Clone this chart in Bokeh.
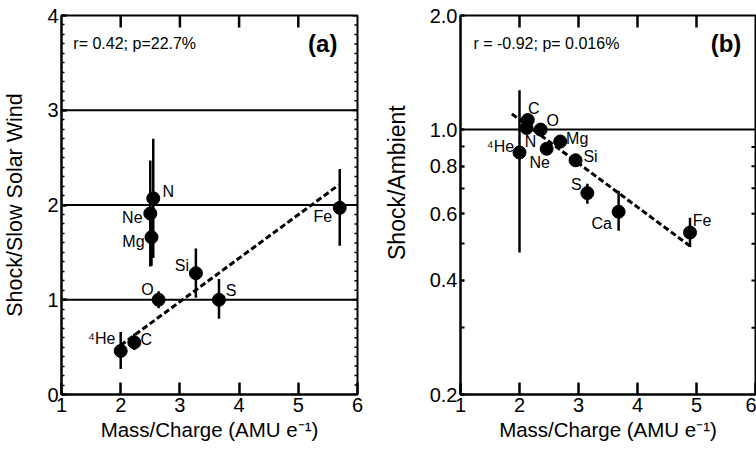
from bokeh.plotting import figure
from bokeh.layouts import row
from bokeh.models import (Range1d, FixedTicker, Span, ColumnDataSource,
                          PrintfTickFormatter, Label)
from bokeh.embed import file_html
from bokeh.resources import INLINE
from bokeh.core.properties import value

FONT = "Liberation Sans"

# ---- Panel (a): shock / slow solar wind abundance ratios ----
ions_a = ["⁴He", "C", "O", "N", "Ne", "Mg", "Si", "S", "Fe"]
mq_a = [2.00, 2.23, 2.64, 2.55, 2.50, 2.52, 3.27, 3.66, 5.70]
ratio_a = [0.46, 0.55, 1.00, 2.07, 1.91, 1.66, 1.28, 1.00, 1.97]
lo_a = [0.27, 0.47, 0.91, 1.44, 1.35, 1.36, 1.02, 0.80, 1.57]
hi_a = [0.66, 0.64, 1.09, 2.70, 2.47, 1.96, 1.54, 1.22, 2.38]
fit_a_x = [2.00, 5.68]
fit_a_y = [0.52, 2.21]
stat_a = "r= 0.42; p=22.7%"

# ---- Panel (b): shock / ambient abundance ratios ----
ions_b = ["⁴He", "C", "N", "O", "Ne", "Mg", "Si", "S", "Ca", "Fe"]
mq_b = [2.00, 2.14, 2.12, 2.36, 2.46, 2.69, 2.95, 3.15, 3.68, 4.89]
ratio_b = [0.87, 1.06, 1.01, 1.00, 0.89, 0.93, 0.83, 0.68, 0.607, 0.535]
lo_b = [0.474, 1.03, 0.98, 0.97, 0.87, 0.91, 0.81, 0.637, 0.541, 0.49]
hi_b = [1.27, 1.09, 1.04, 1.03, 0.91, 0.95, 0.85, 0.72, 0.69, 0.585]
fit_b_x = [1.87, 4.92]
fit_b_y = [1.10, 0.489]
stat_b = "r = -0.92; p= 0.016%"

x_ticks = [1, 2, 3, 4, 5, 6]
ya_ticks = [0, 1, 2, 3, 4]
ya_minor = [i / 10 for i in range(1, 40) if i % 10]
yb_ticks = [0.2, 0.4, 0.6, 0.8, 1.0, 2.0]
yb_minor = [0.3, 0.5, 0.7, 0.9]
x_title = "Mass/Charge (AMU e⁻¹)"

# label placement around each marker (screen px, +y is down)
off_a = [(-19, -12), (12, -3), (-11, -10), (15, -7), (-18, 4), (-18, 4),
         (-14, -8), (12, -9), (-17, 9)]
off_b = [(-19, -6), (6, -11), (4, 14), (12, -9), (-7, 14), (17, -3),
         (15, -4), (-11, -9), (-17, 12), (12, -12)]

# figure geometry (px)
FIG_W, FIG_H = 378, 449
BORDER_TOP, BORDER_BOTTOM = 15, 55
FRAME_H = FIG_H - BORDER_TOP - BORDER_BOTTOM
X_TICK_LEN = 12


def style_axis(ax, tick_in, minor_in, minor_width=1.5):
    ax.axis_line_width = 2
    ax.axis_line_color = "black"
    ax.major_tick_line_width = 2.5
    ax.major_tick_line_color = "black"
    ax.minor_tick_line_width = minor_width
    ax.minor_tick_line_color = "black"
    ax.major_tick_in = tick_in
    ax.major_tick_out = 0
    ax.minor_tick_in = minor_in
    ax.minor_tick_out = 0
    ax.major_label_text_font = FONT
    ax.major_label_text_color = "black"
    ax.major_label_text_font_size = "20px"
    ax.major_label_standoff = 3
    ax.axis_label_text_font = FONT
    ax.axis_label_text_font_style = "normal"
    ax.axis_label_text_font_size = "20.5px"
    ax.axis_label_text_color = "black"


def make_panel(ions, mq, ratio, lo, hi, fit_x, fit_y, offsets, y_range,
               y_type, border_left, border_right):
    p = figure(width=FIG_W, height=FIG_H, x_range=Range1d(1, 6),
               y_range=y_range, y_axis_type=y_type, output_backend="svg",
               toolbar_location=None,
               min_border_left=border_left, min_border_right=border_right,
               min_border_top=BORDER_TOP, min_border_bottom=BORDER_BOTTOM)
    p.xgrid.visible = False
    p.ygrid.visible = False
    p.outline_line_color = "black"
    p.outline_line_width = 2
    p.background_fill_color = "white"
    p.border_fill_color = "white"

    src = ColumnDataSource(dict(
        x=mq, y=ratio, lo=lo, hi=hi, name=ions,
        dx=[o[0] for o in offsets], dy=[o[1] for o in offsets]))

    p.segment(x0="x", y0="lo", x1="x", y1="hi", source=src,
              line_color="black", line_width=2.5)
    p.line(fit_x, fit_y, line_color="black", line_width=3, line_dash="6 3")
    p.scatter("x", "y", source=src, size=13, marker="circle",
              fill_color="black", line_color="black")
    p.text(x="x", y="y", text="name", x_offset="dx", y_offset="dy", source=src,
           text_font=value(FONT), text_font_size="16px", text_color="black",
           text_align="center", text_baseline="middle")

    p.xaxis.ticker = FixedTicker(ticks=x_ticks, minor_ticks=[])
    style_axis(p.xaxis[0], X_TICK_LEN, 0)
    p.xaxis.axis_label = x_title
    p.xaxis.axis_label_standoff = 3
    return p


def top_ticks(p, y_edge, y_inner):
    # inward tick marks hanging from the top edge of the frame
    xs = x_ticks[1:-1]
    p.segment(x0=xs, y0=[y_edge] * len(xs), x1=xs, y1=[y_inner] * len(xs),
              line_color="black", line_width=2.5)


def right_ticks(p, ys, frame_w, length, width):
    # inward tick marks along the right edge of the frame
    x_in = 6 - length * 5 / frame_w
    p.segment(x0=[6] * len(ys), y0=ys, x1=[x_in] * len(ys), y1=ys,
              line_color="black", line_width=width)


# panel (a)
pa = make_panel(ions_a, mq_a, ratio_a, lo_a, hi_a, fit_a_x, fit_a_y, off_a,
                Range1d(0, 4), "linear", 61, 21)
frame_w_a = FIG_W - 61 - 21
pa.yaxis.ticker = FixedTicker(ticks=ya_ticks, minor_ticks=ya_minor)
style_axis(pa.yaxis[0], 5, 3)
pa.yaxis.axis_label = "Shock/Slow Solar Wind"
pa.yaxis.axis_label_text_font_size = "21.5px"
pa.yaxis.axis_label_standoff = 17
top_ticks(pa, 4, 4 - X_TICK_LEN * 4 / FRAME_H)
right_ticks(pa, ya_minor, frame_w_a, 3, 1.5)
right_ticks(pa, ya_ticks, frame_w_a, 5, 2)
for level in (1, 2, 3):
    pa.add_layout(Span(location=level, dimension="width",
                       line_color="black", line_width=2))
pa.add_layout(Label(x=1.2, y=3.70, text=stat_a, text_font=FONT,
                    text_font_size="16px", text_baseline="middle",
                    text_color="black"))
pa.add_layout(Label(x=5.66, y=3.70, text="(a)", text_font=FONT,
                    text_font_size="24px", text_font_style="bold",
                    text_align="right", text_baseline="middle",
                    text_color="black"))

# panel (b)
pb = make_panel(ions_b, mq_b, ratio_b, lo_b, hi_b, fit_b_x, fit_b_y, off_b,
                Range1d(0.2, 2.0), "log", 82, 1)
frame_w_b = FIG_W - 82 - 1
pb.yaxis.ticker = FixedTicker(ticks=yb_ticks, minor_ticks=yb_minor)
pb.yaxis.formatter = PrintfTickFormatter(format="%.1f")
style_axis(pb.yaxis[0], 4, 4, minor_width=2)
# leading no-break spaces lift the title above the frame's middle
pb.yaxis.axis_label = "\u00a0" * 7 + "Shock/Ambient"
pb.yaxis.axis_label_text_font_size = "23px"
pb.yaxis.axis_label_standoff = 17
top_ticks(pb, 2.0, 2.0 / 10 ** (X_TICK_LEN / FRAME_H))
right_ticks(pb, yb_minor + yb_ticks[1:-2], frame_w_b, 4, 2)
pb.add_layout(Span(location=1.0, dimension="width",
                   line_color="black", line_width=2))
pb.add_layout(Label(x=1.22, y=1.687, text=stat_b, text_font=FONT,
                    text_font_size="16px", text_baseline="middle",
                    text_color="black"))
pb.add_layout(Label(x=5.76, y=1.687, text="(b)", text_font=FONT,
                    text_font_size="24px", text_font_style="bold",
                    text_align="right", text_baseline="middle",
                    text_color="black"))

layout = row(pa, pb)
open("out.html", "w").write(file_html(layout, INLINE))
